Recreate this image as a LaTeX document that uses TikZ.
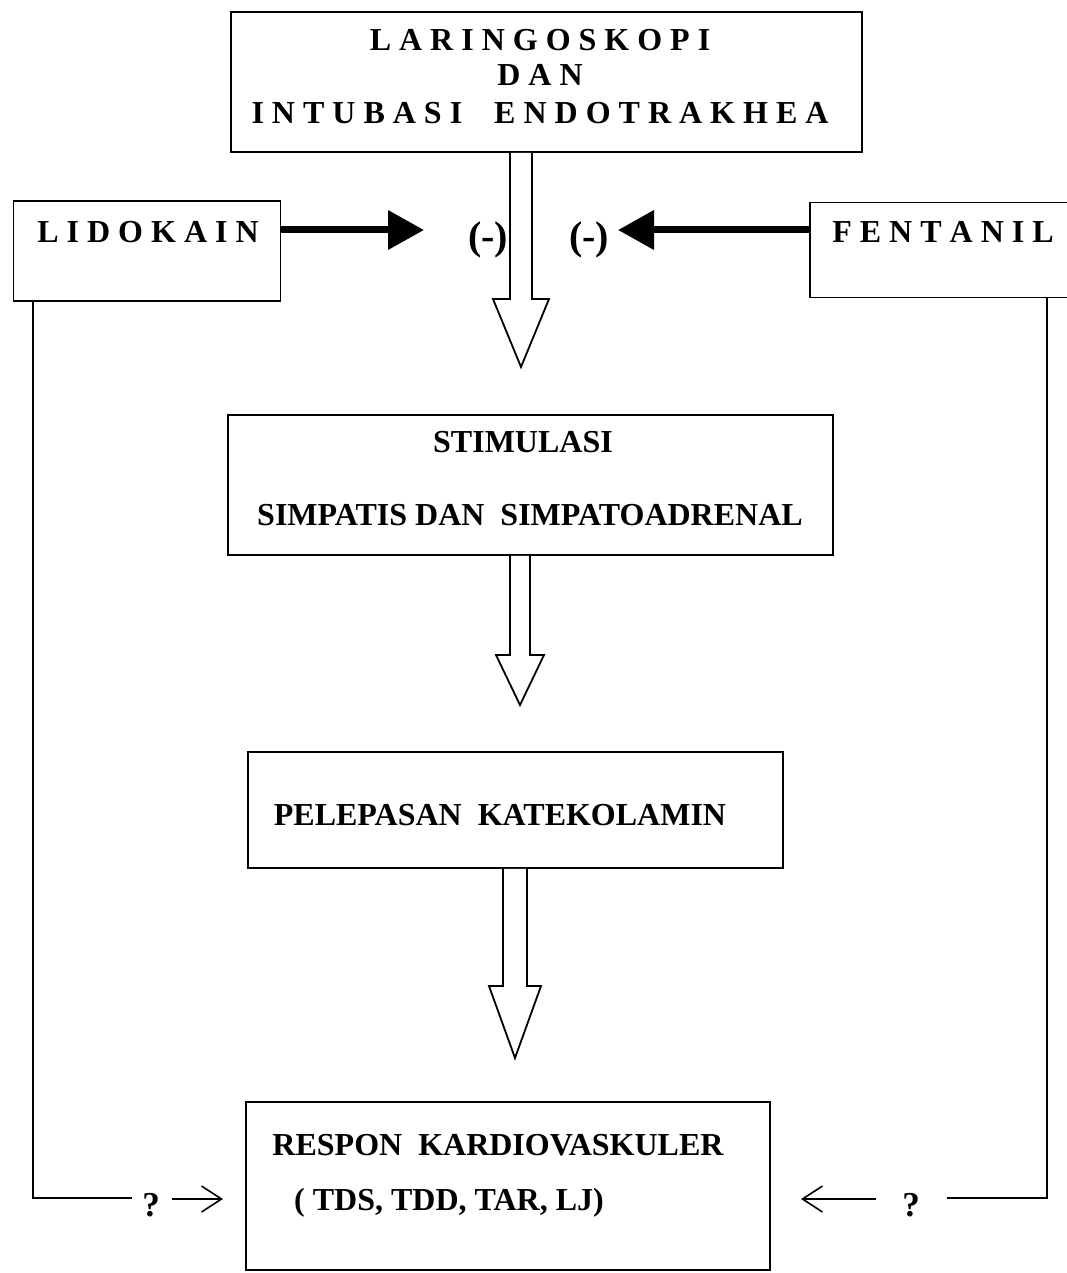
\documentclass[tikz,border=0pt]{standalone}
\usepackage{fontspec}
\setmainfont{Liberation Serif}
\usetikzlibrary{arrows.meta,calc}
\newcommand\blockarrow[5]{% start, tip, shaft half, head half, head length
  \draw[hollow] ($(#1)+(-#3,0)$) -- ($(#2)+(-#3,-#5)$) -- ($(#2)+(-#4,-#5)$) -- (#2)
    -- ($(#2)+(#4,-#5)$) -- ($(#2)+(#3,-#5)$) -- ($(#1)+(#3,0)$);}
\begin{document}
\begin{tikzpicture}[x=1pt,y=-1pt,
  box/.style={draw, line width=1.6pt, inner sep=0pt, fill=white},
  txt/.style={font=\fontsize{32}{38}\selectfont\bfseries, inner sep=0pt, text height=21pt, text depth=0pt, anchor=center},
  qm/.style={font=\fontsize{35}{40}\selectfont\bfseries, inner sep=0pt, text height=23pt, text depth=0pt, anchor=center},
  minus/.style={font=\fontsize{40}{44}\selectfont\bfseries, inner sep=0pt, text height=26pt, text depth=0pt, anchor=center},
  hollow/.style={draw, line width=1.8pt, fill=white, line join=miter},
  thickarrow/.style={line width=7pt, -{Triangle[length=36pt,width=38pt]}},
  thinarrow/.style={line width=1.6pt, -{Straight Barb[length=20pt,width=26pt,line width=1.6pt]}},
  link/.style={line width=1.5pt}]
\useasboundingbox (0,0) rectangle (1067,1273);
\clip (0,0) rectangle (1067,1273);
\fill[white] (0,0) rectangle (1067,1273);
% boxes
\node[box, minimum width=631pt, minimum height=140pt] (top) at (546.5,82) {};
\node[box, minimum width=267pt, minimum height=100pt] (lido) at (147,251) {};
\node[box, minimum width=270pt, minimum height=95pt] (fent) at (945,250) {};
\node[box, minimum width=605pt, minimum height=140pt] (stim) at (530.5,485) {};
\node[box, minimum width=535pt, minimum height=116pt] (pele) at (515.5,810) {};
\node[box, minimum width=524pt, minimum height=168pt] (resp) at (508,1186) {};
% texts
\node[txt] (t1) at (540,40) {L A R I N G O S K O P I};
\node[txt] (t2) at (540,75) {D A N};
\node[txt] (t3) at (540,113) {I N T U B A S I\quad E N D O T R A K H E A};
\node[txt] (tl) at (148,232) {L I D O K A I N};
\node[txt] (tf) at (943,232) {F E N T A N I L};
\node[txt] (ts1) at (523,442) {STIMULASI};
\node[txt] (ts2) at (530,515) {SIMPATIS DAN\ \ SIMPATOADRENAL};
\node[txt] (tp) at (500,815) {PELEPASAN\ \ KATEKOLAMIN};
\node[txt] (tr1) at (498,1145) {RESPON\ \ KARDIOVASKULER};
\node[txt] (tr2) at (449,1200) {( TDS, TDD, TAR, LJ)};
\node[minus] (m1) at (488,237) {(-)};
\node[minus] (m2) at (589,237) {(-)};
% hollow arrows
\coordinate (a1t) at (521,367);
\coordinate (a1s) at (top.south -| a1t);
\blockarrow{a1s}{a1t}{11}{28}{68}
\coordinate (a2t) at (520,705);
\coordinate (a2s) at (stim.south -| a2t);
\blockarrow{a2s}{a2t}{10}{24}{50}
\coordinate (a3t) at (515,1058);
\coordinate (a3s) at (pele.south -| a3t);
\blockarrow{a3s}{a3t}{12}{26}{72}
% thick arrows
\coordinate (lt) at (424,230);
\draw[thickarrow] (lido.east |- lt) -- (lt);
\coordinate (ft) at (618,230);
\draw[thickarrow] (fent.west |- ft) -- (ft);
% bottom links
\coordinate (lc) at (33,1198);
\coordinate (le) at (132,1198);
\draw[link] (lido.south -| lc) -- (lc) -- (le);
\node[qm] (q1) at (151,1205) {?};
\coordinate (la0) at (172,1199);
\coordinate (la1) at (223,1199);
\draw[thinarrow] (la0) -- (la1);
\coordinate (rc) at (1047,1198);
\coordinate (re) at (947,1198);
\draw[link] (fent.south -| rc) -- (rc) -- (re);
\node[qm] (q2) at (911,1205) {?};
\coordinate (ra0) at (876,1199);
\coordinate (ra1) at (801,1199);
\draw[thinarrow] (ra0) -- (ra1);
\end{tikzpicture}
\end{document}
